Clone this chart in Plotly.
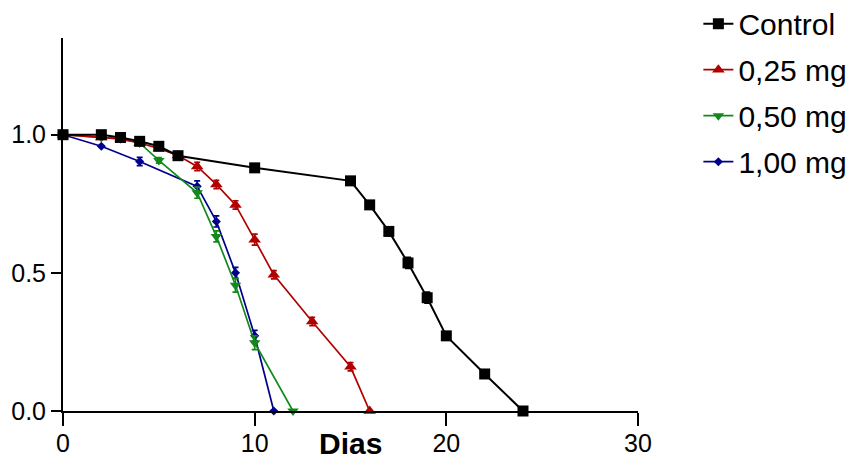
import plotly.graph_objects as go

# Data
days_control = [0, 2, 3, 4, 5, 6, 10, 15, 16, 17, 18, 19, 20, 22, 24]
control = [1.0, 1.0, 0.99, 0.976, 0.958, 0.924, 0.88, 0.833, 0.746, 0.65, 0.536, 0.41, 0.272, 0.134, 0.0]
err_control = [0, 0, 0, 0, 0, 0, 0, 0, 0.01, 0.015, 0.02, 0.02, 0, 0, 0]

days_025 = [0, 2, 3, 4, 5, 6, 7, 8, 9, 10, 11, 13, 15, 16]
dose_025 = [1.0, 0.99, 0.985, 0.97, 0.95, 0.925, 0.885, 0.82, 0.746, 0.62, 0.493, 0.324, 0.16, 0.0]
err_025 = [0, 0, 0, 0, 0, 0, 0.015, 0.015, 0.015, 0.02, 0.015, 0.015, 0.015, 0]

days_050 = [0, 2, 3, 4, 5, 7, 8, 9, 10, 12]
dose_050 = [1.0, 0.99, 0.985, 0.97, 0.907, 0.79, 0.632, 0.455, 0.247, 0.0]
err_050 = [0, 0, 0, 0, 0.01, 0.02, 0.02, 0.025, 0.025, 0]

days_100 = [0, 2, 4, 7, 8, 9, 10, 11]
dose_100 = [1.0, 0.958, 0.903, 0.813, 0.686, 0.5, 0.272, 0.0]
err_100 = [0, 0, 0.015, 0.02, 0.02, 0.02, 0.02, 0]

series_names = ["Control", "0,25 mg", "0,50 mg", "1,00 mg"]
x_ticks = [0, 10, 20, 30]
y_ticks = [0.0, 0.5, 1.0]
y_tick_labels = ["0.0", "0.5", "1.0"]
x_title = "Dias"

FONT = "Liberation Sans, Arial, sans-serif"

styles = [
    dict(color="#000000", symbol="square", size=11, width=2),
    dict(color="#B00000", symbol="triangle-up", size=11, width=1.7),
    dict(color="#12891A", symbol="triangle-down", size=10, width=1.7),
    dict(color="#00008C", symbol="diamond", size=7, width=1.7),
]
datasets = [
    (days_control, control, err_control),
    (days_025, dose_025, err_025),
    (days_050, dose_050, err_050),
    (days_100, dose_100, err_100),
]

fig = go.Figure()
# draw in reverse so Control is on top, legend order kept by legendrank
for i in [3, 2, 1, 0]:
    xs, ys, es = datasets[i]
    st = styles[i]
    fig.add_trace(go.Scatter(
        x=xs, y=ys, name=series_names[i], mode="lines+markers",
        line=dict(color=st["color"], width=st["width"]),
        marker=dict(color=st["color"], symbol=st["symbol"], size=st["size"]),
        error_y=dict(type="data", array=es, visible=True, color=st["color"],
                     thickness=1.7, width=3),
        cliponaxis=False, legendrank=i + 1, legendgroup=str(i),
    ))

# the page body has an 8px margin, so the figure is sized 8px smaller
fig.update_layout(
    width=849, height=451,
    margin=dict(l=55, r=219, t=30, b=48, autoexpand=False),
    paper_bgcolor="white", plot_bgcolor="white",
    font=dict(family=FONT, color="black"),
    showlegend=True,
    legend=dict(x=1.105, y=1.108, xanchor="left", yanchor="top",
                font=dict(size=30, family=FONT, color="black"),
                traceorder="grouped", tracegroupgap=4,
                bgcolor="rgba(0,0,0,0)", itemwidth=30),
    xaxis=dict(range=[0, 30], tickvals=x_ticks, ticktext=[str(v) for v in x_ticks],
               showline=True, linecolor="black", linewidth=2,
               ticks="outside", ticklen=13, tickwidth=2, tickcolor="black",
               ticklabelstandoff=-4,
               showgrid=False, zeroline=False,
               tickfont=dict(size=25, family=FONT, color="black")),
    yaxis=dict(range=[0, 1.35], tickvals=y_ticks, ticktext=y_tick_labels,
               showline=True, linecolor="black", linewidth=2,
               ticks="outside", ticklen=10, tickwidth=2, tickcolor="black",
               showgrid=False, zeroline=False,
               tickfont=dict(size=25, family=FONT, color="black")),
    annotations=[dict(text="<b>" + x_title + "</b>", x=0.5, xref="paper",
                      y=-0.087, yref="paper", yanchor="middle", xanchor="center",
                      showarrow=False, font=dict(size=30, family=FONT, color="black"))],
)

fig.write_html("out.html")
